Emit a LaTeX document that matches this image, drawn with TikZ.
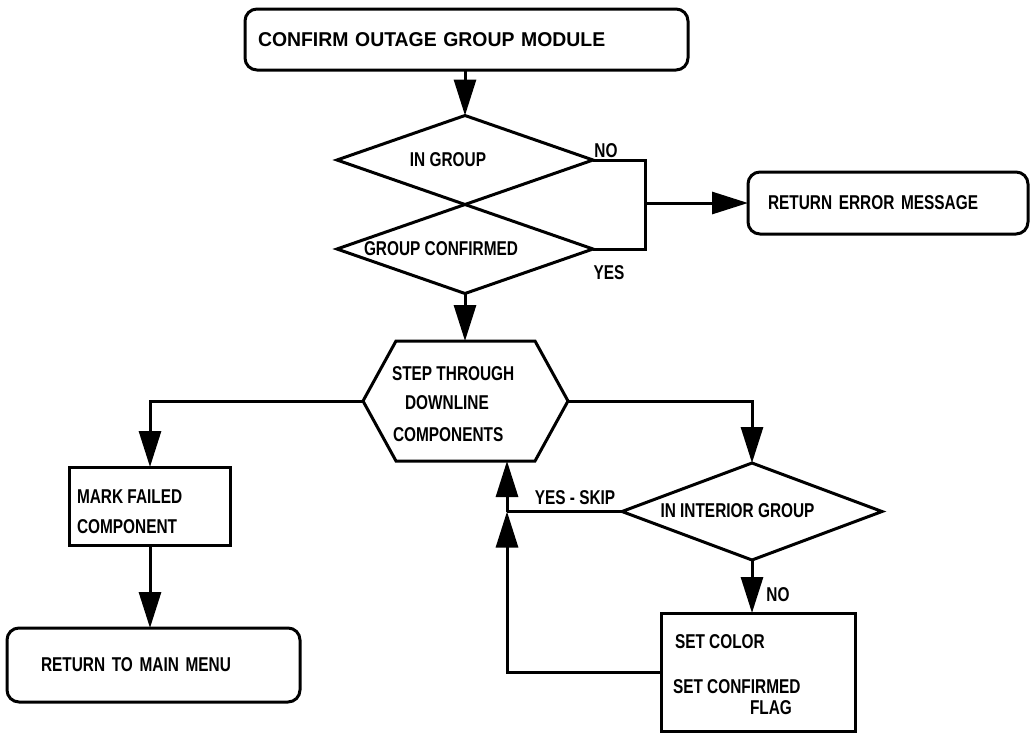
\documentclass[tikz,border=0pt]{standalone}
\usepackage{fontspec}
\setmainfont{Liberation Sans}
\newfontfamily\plotfont{Liberation Sans}[FakeStretch=0.77]
\newfontfamily\titlefont{Liberation Sans}[FakeStretch=0.97]
\usetikzlibrary{arrows.meta,shapes.geometric}

\begin{document}
\begin{tikzpicture}[x=1pt,y=-1pt,
  line width=3pt, line join=miter,
  every node/.style={inner sep=0pt, outer sep=0pt},
  txt/.style={font=\plotfont\bfseries\fontsize{20}{30}\selectfont, align=left},
  rbox/.style={draw, rounded corners=12pt, txt},
  sbox/.style={draw, txt},
  decision/.style={draw, diamond, txt},
  arr/.style={-{Triangle[length=36pt,width=22pt]}},
]
\useasboundingbox (0,0) rectangle (1035,734);

% module header
\node[rbox, minimum width=443pt, minimum height=61pt, text width=417pt,
      font=\titlefont\bfseries\fontsize{20}{24}\selectfont] (start) at (466.5,39.5)
      {CONFIRM OUTAGE GROUP MODULE};

% stacked group decisions
\node[decision, minimum width=256pt, minimum height=89pt] (ingroup) at (465,160) {};
\node[txt] (ingrouptxt) at (448,160) {IN GROUP};
\node[decision, minimum width=256pt, minimum height=89pt] (confirmed) at (465,249) {};
\node[txt] (confirmedtxt) at (441,249) {GROUP CONFIRMED};

\coordinate (split) at (645,203);
\node[rbox, minimum width=280pt, minimum height=62pt, text width=240pt] (error) at (888,203)
      {RETURN ERROR MESSAGE};

\node[txt] (nolabel) at (606,151) {NO};
\node[txt] (yeslabel) at (609,273) {YES};

% step-through hexagon
\coordinate (hexW) at (363,401);
\coordinate (hexNW) at (396,341);
\coordinate (hexNE) at (535,341);
\coordinate (hexE) at (568,401);
\coordinate (hexSE) at (535,461);
\coordinate (hexSW) at (396,461);
\coordinate (hexN) at (465,341);
\coordinate (hexS) at (507,461);
\draw (hexW) -- (hexNW) -- (hexNE) -- (hexE) -- (hexSE) -- (hexSW) -- cycle;
\node[txt, anchor=west] (steptxt) at (392,374) {STEP THROUGH};
\node[txt, anchor=west] (downtxt) at (405,403) {DOWNLINE};
\node[txt, anchor=west] (comptxt) at (393,435) {COMPONENTS};

% left branch
\node[sbox, minimum width=161pt, minimum height=78pt] (mark) at (150,506) {};
\node[txt, anchor=west] (marktxt) at (77,512) {MARK FAILED\\COMPONENT};
\node[rbox, minimum width=293pt, minimum height=74pt, text width=225pt] (menu) at (153.5,665)
      {RETURN TO MAIN MENU};

% right branch
\node[decision, minimum width=260pt, minimum height=97pt] (interior) at (752,511.5) {};
\node[txt] (interiortxt) at (737.5,511) {IN INTERIOR GROUP};
\coordinate (skip) at (507,511.5);
\node[txt] (skiplabel) at (575,498) {YES - SKIP};
\node[txt] (nolabel2) at (778,595) {NO};

\node[sbox, minimum width=194pt, minimum height=118pt] (setbox) at (758,672) {};
\node[txt, anchor=west] (colortxt) at (675,642) {SET COLOR};
\node[txt, anchor=west] (flagtxt) at (673,687) {SET CONFIRMED};
\node[txt, anchor=west] (flagtxt2) at (750,708) {FLAG};

% connectors
\draw[arr] (ingroup.north |- start.south) -- (ingroup.north);
\draw (ingroup.east) -| (split) |- (confirmed.east);
\draw[arr] (split) -- (error.west);
\draw[arr] (confirmed.south) -- (hexN);
\draw[arr] (hexW) -| (mark.north);
\draw[arr] (mark.south) -- (mark.south |- menu.north);
\draw[arr] (hexE) -| (interior.north);
\draw[arr] (interior.south) -- (interior.south |- setbox.north);
\draw[arr] (setbox.west) -| (skip);
\draw[arr] (skip) -- (hexS);
\draw (interior.west) -- (skip);
\end{tikzpicture}
\end{document}
